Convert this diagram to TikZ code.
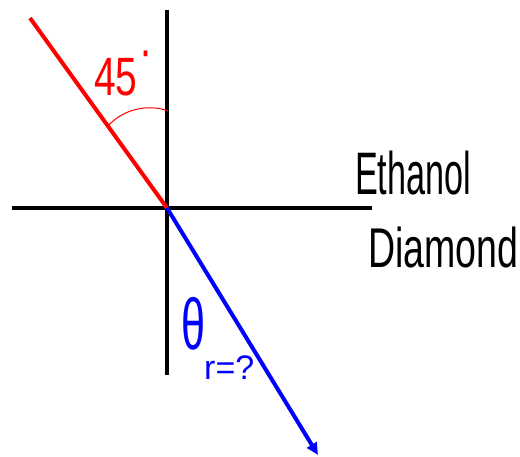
\documentclass[tikz,border=0pt]{standalone}
\usepackage{fontspec}
\setmainfont{Liberation Sans}
\usetikzlibrary{arrows.meta}
\begin{document}
\begin{tikzpicture}[x=1pt,y=-1pt,
  axisline/.style={line width=4pt,black},
  rayred/.style={line width=4pt,red},
  rayblue/.style={line width=4pt,blue,-{Triangle[length=12pt,width=11pt]}},
  hand/.style={inner sep=0pt,anchor=base west},
  anglearc/.style={line width=1pt,red}]
\useasboundingbox (0,0) rectangle (520,457);
\coordinate (O) at (167,208);
\coordinate (vtop) at (167,10);
\coordinate (vbot) at (167,375);
\coordinate (hl) at (12,208);
\coordinate (hr) at (372,208);
\coordinate (rs) at (30,18);
\coordinate (be) at (318,455);
\coordinate (a1) at (108,126);
\coordinate (a2) at (168,111);
\draw[axisline] (vtop) -- (vbot);
\draw[axisline] (hl) -- (hr);
\draw[rayred] (rs) -- (O);
\draw[rayblue] (O) -- (be);
\draw[anglearc] (a1) .. controls (124,108) and (150,104) .. (a2);
\node[hand,red,font=\fontsize{54}{54}\selectfont,xscale=0.72] (ang) at (94,96) {45\kern0.05em\raisebox{0.5em}{·}};
\node[hand,font=\fontsize{60}{60}\selectfont,xscale=0.57] (eth) at (355,195) {Ethanol};
\node[hand,font=\fontsize{56}{56}\selectfont,xscale=0.67] (dia) at (368,268) {Diamond};
\node[hand,blue,font=\fontsize{72}{72}\selectfont,xscale=0.6] (th) at (181,350) {θ};
\node[hand,blue,font=\fontsize{34}{34}\selectfont] (sub) at (204,380) {r=?};
\end{tikzpicture}
\end{document}
